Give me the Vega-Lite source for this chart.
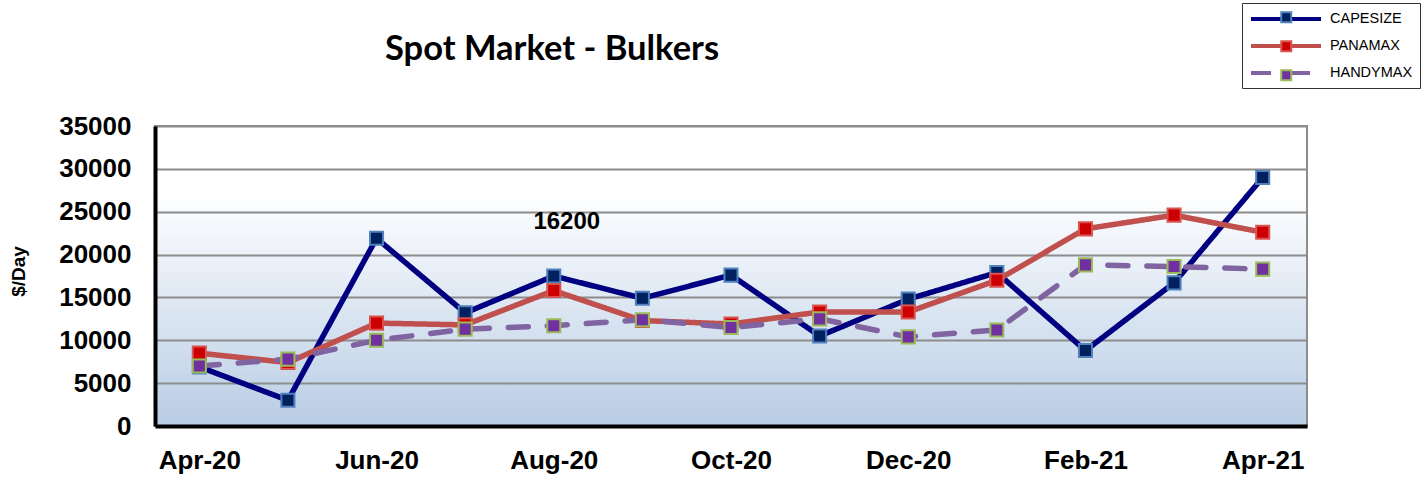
{
  "$schema": "https://vega.github.io/schema/vega-lite/v6.json",
  "width": 1152,
  "height": 300,
  "autosize": {"type": "none"},
  "padding": {"left": 155, "top": 126, "right": 118, "bottom": 62},
  "background": "white",
  "title": {"text": "Spot Market - Bulkers", "anchor": "start", "frame": "group", "dx": 230, "offset": 0, "dy": 65, "font": "Lato", "fontSize": 34.5, "fontWeight": "bold", "color": "black"},
  "config": {
    "view": {"stroke": "#8c8c8c", "strokeWidth": 2, "fill": {"gradient": "linear", "x1": 0, "y1": 0, "x2": 0, "y2": 1, "stops": [{"offset": 0, "color": "#ffffff"}, {"offset": 0.22, "color": "#ffffff"}, {"offset": 1, "color": "#b9cde5"}]}}
  },
  "datasets": {
    "spot": [
      {"month": "Apr-20", "series": "CAPESIZE", "value": 6900},
      {"month": "May-20", "series": "CAPESIZE", "value": 3000},
      {"month": "Jun-20", "series": "CAPESIZE", "value": 21900},
      {"month": "Jul-20", "series": "CAPESIZE", "value": 13200},
      {"month": "Aug-20", "series": "CAPESIZE", "value": 17500},
      {"month": "Sep-20", "series": "CAPESIZE", "value": 14900},
      {"month": "Oct-20", "series": "CAPESIZE", "value": 17600},
      {"month": "Nov-20", "series": "CAPESIZE", "value": 10500},
      {"month": "Dec-20", "series": "CAPESIZE", "value": 14800},
      {"month": "Jan-21", "series": "CAPESIZE", "value": 17900},
      {"month": "Feb-21", "series": "CAPESIZE", "value": 8800},
      {"month": "Mar-21", "series": "CAPESIZE", "value": 16700},
      {"month": "Apr-21", "series": "CAPESIZE", "value": 29000},
      {"month": "Apr-20", "series": "PANAMAX", "value": 8500},
      {"month": "May-20", "series": "PANAMAX", "value": 7400},
      {"month": "Jun-20", "series": "PANAMAX", "value": 12000},
      {"month": "Jul-20", "series": "PANAMAX", "value": 11800},
      {"month": "Aug-20", "series": "PANAMAX", "value": 15800},
      {"month": "Sep-20", "series": "PANAMAX", "value": 12300},
      {"month": "Oct-20", "series": "PANAMAX", "value": 11900},
      {"month": "Nov-20", "series": "PANAMAX", "value": 13300},
      {"month": "Dec-20", "series": "PANAMAX", "value": 13300},
      {"month": "Jan-21", "series": "PANAMAX", "value": 17000},
      {"month": "Feb-21", "series": "PANAMAX", "value": 23000},
      {"month": "Mar-21", "series": "PANAMAX", "value": 24600},
      {"month": "Apr-21", "series": "PANAMAX", "value": 22600},
      {"month": "Apr-20", "series": "HANDYMAX", "value": 7000},
      {"month": "May-20", "series": "HANDYMAX", "value": 7800},
      {"month": "Jun-20", "series": "HANDYMAX", "value": 10000},
      {"month": "Jul-20", "series": "HANDYMAX", "value": 11300},
      {"month": "Aug-20", "series": "HANDYMAX", "value": 11700},
      {"month": "Sep-20", "series": "HANDYMAX", "value": 12400},
      {"month": "Oct-20", "series": "HANDYMAX", "value": 11500},
      {"month": "Nov-20", "series": "HANDYMAX", "value": 12500},
      {"month": "Dec-20", "series": "HANDYMAX", "value": 10400},
      {"month": "Jan-21", "series": "HANDYMAX", "value": 11200},
      {"month": "Feb-21", "series": "HANDYMAX", "value": 18800},
      {"month": "Mar-21", "series": "HANDYMAX", "value": 18600},
      {"month": "Apr-21", "series": "HANDYMAX", "value": 18300}
    ],
    "note": [
      {"month": "Aug-20", "value": 23800, "label": "16200"}
    ]
  },
  "encoding": {
    "x": {
      "field": "month", "type": "ordinal", "sort": null,
      "scale": {"type": "point", "padding": 0.5, "domain": ["Apr-20", "May-20", "Jun-20", "Jul-20", "Aug-20", "Sep-20", "Oct-20", "Nov-20", "Dec-20", "Jan-21", "Feb-21", "Mar-21", "Apr-21"]},
      "axis": {
        "title": null, "labelAngle": 0, "ticks": false, "grid": false,
        "domainColor": "black", "domainWidth": 4, "labelPadding": 21,
        "labelFont": "Liberation Sans", "labelFontWeight": "bold", "labelFontSize": 26, "labelColor": "black",
        "labelExpr": "indexof(['Apr-20','Jun-20','Aug-20','Oct-20','Dec-20','Feb-21','Apr-21'], datum.label) >= 0 ? datum.label : ''"
      }
    },
    "y": {
      "field": "value", "type": "quantitative",
      "scale": {"domain": [0, 35000], "nice": false},
      "axis": {
        "title": "$/Day", "values": [0, 5000, 10000, 15000, 20000, 25000, 30000, 35000], "format": "d",
        "ticks": false, "grid": true, "gridColor": "#8c8c8c", "gridWidth": 2,
        "domainColor": "black", "domainWidth": 4, "labelPadding": 24,
        "labelFont": "Liberation Sans", "labelFontWeight": "bold", "labelFontSize": 26, "labelColor": "black",
        "titleFont": "Liberation Sans", "titleFontWeight": "bold", "titleFontSize": 19, "titleColor": "black",
        "titleAngle": -90, "titleX": -137, "titleY": 145, "titleAlign": "center", "titleBaseline": "middle"
      }
    }
  },
  "layer": [
    {
      "data": {"name": "spot"},
      "mark": {"type": "line", "strokeWidth": 5.5, "strokeCap": "round"},
      "encoding": {
        "color": {"field": "series", "type": "nominal", "sort": null,
          "scale": {"domain": ["CAPESIZE", "PANAMAX", "HANDYMAX"], "range": ["#000080", "#c0504d", "#8064a2"]},
          "legend": {
            "title": null, "orient": "none", "legendX": 1087, "legendY": -123, "direction": "vertical",
            "strokeColor": "#333333", "fillColor": null, "padding": 7,
            "symbolType": "M-1,0H9", "symbolSize": 196, "symbolStrokeWidth": 4,
            "labelFont": "Liberation Sans", "labelFontSize": 14.5, "labelColor": "black", "labelOffset": 63,
            "rowPadding": 10
          }},
        "strokeDash": {"field": "series", "type": "nominal", "sort": null,
          "scale": {"domain": ["CAPESIZE", "PANAMAX", "HANDYMAX"], "range": [[1, 0], [1, 0], [20, 19]]},
          "legend": {
            "title": null, "orient": "none", "legendX": 1087, "legendY": -123, "direction": "vertical",
            "strokeColor": "#333333", "fillColor": null, "padding": 7,
            "symbolType": "M-1,0H9", "symbolSize": 196, "symbolStrokeWidth": 4,
            "labelFont": "Liberation Sans", "labelFontSize": 14.5, "labelColor": "black", "labelOffset": 63,
            "rowPadding": 10
          }}
      }
    },
    {
      "data": {"name": "spot"},
      "mark": {"type": "point", "shape": "square", "filled": true, "size": 170, "strokeWidth": 2, "opacity": 1},
      "encoding": {
        "fill": {"field": "series", "type": "nominal", "sort": null,
          "scale": {"range": ["#002060", "#cc0000", "#7030a0"]},
          "legend": {
            "title": null, "orient": "none", "legendX": 1124, "legendY": -116, "direction": "vertical",
            "strokeColor": null, "fillColor": null, "padding": 0,
            "symbolType": "square", "symbolSize": 100, "symbolStrokeWidth": 2, "symbolOpacity": 1,
            "labelFont": "Liberation Sans", "labelFontSize": 14.5, "labelOpacity": 0, "labelExpr": "''", "labelOffset": 4,
            "rowPadding": 10
          }},
        "stroke": {"field": "series", "type": "nominal", "sort": null,
          "scale": {"range": ["#4f81bd", "#d9534f", "#9bbb59"]},
          "legend": {
            "title": null, "orient": "none", "legendX": 1124, "legendY": -116, "direction": "vertical",
            "strokeColor": null, "fillColor": null, "padding": 0,
            "symbolType": "square", "symbolSize": 100, "symbolStrokeWidth": 2, "symbolOpacity": 1,
            "labelFont": "Liberation Sans", "labelFontSize": 14.5, "labelOpacity": 0, "labelExpr": "''", "labelOffset": 4,
            "rowPadding": 10
          }}
      }
    },
    {
      "data": {"name": "note"},
      "mark": {"type": "text", "dx": 13, "font": "Liberation Sans", "fontWeight": "bold", "fontSize": 24, "color": "black"},
      "encoding": {"text": {"field": "label"}}
    }
  ]
}
